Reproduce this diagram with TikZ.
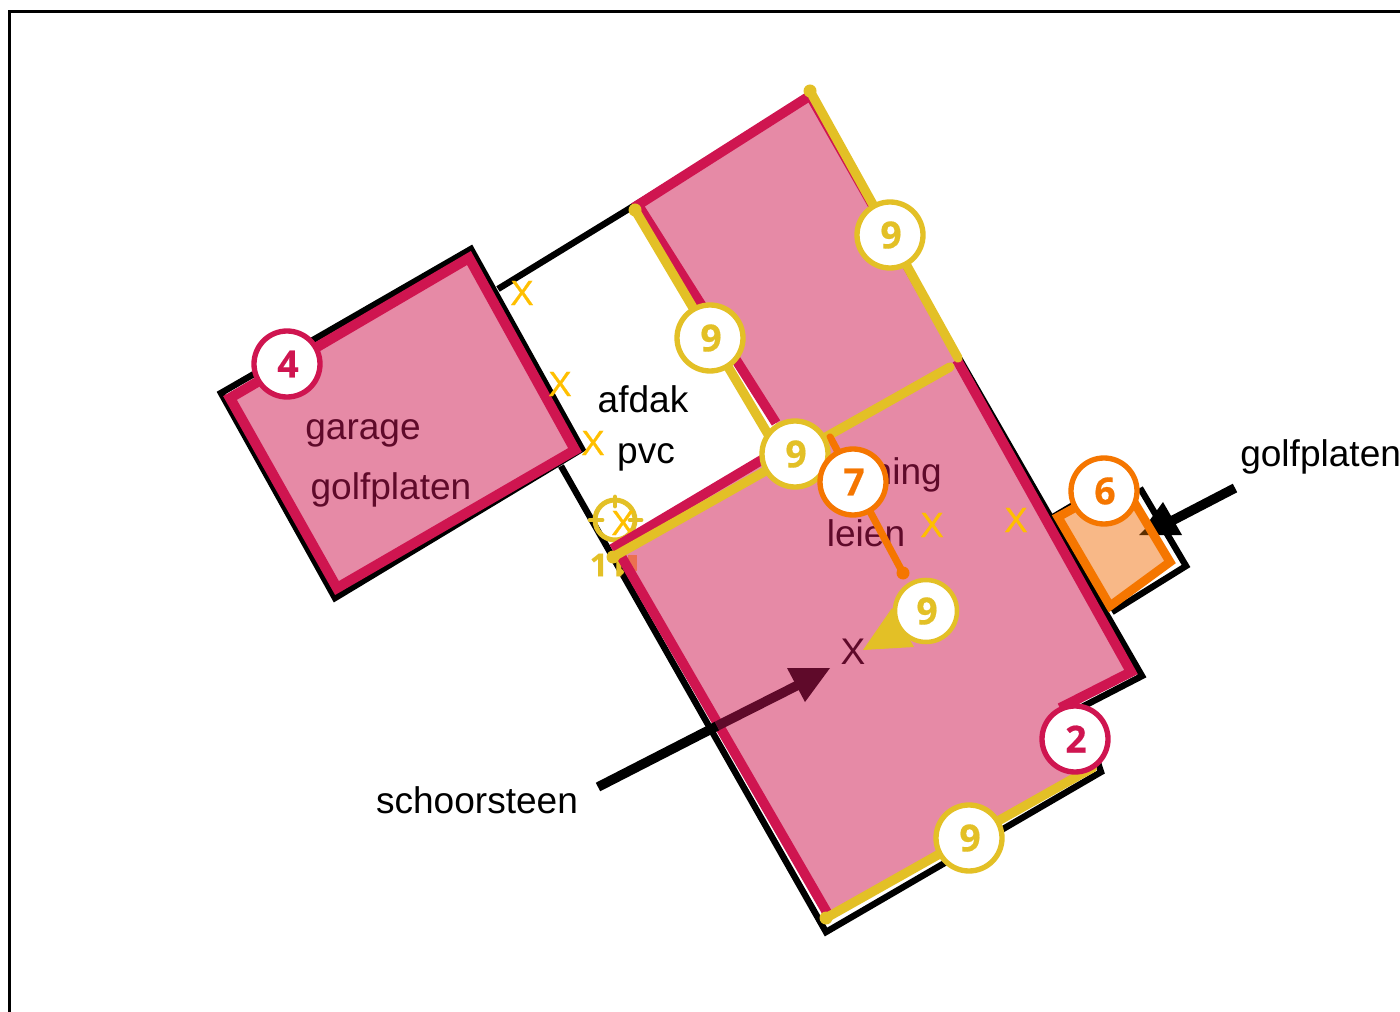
\documentclass[tikz,border=0pt]{standalone}
\usepackage{fontspec}
\setmainfont{Liberation Sans}
\newfontfamily\numfont[BoldFeatures={FakeBold=0.4}]{Open Sans}
\newfontfamily\xfont[FakeBold=0.5]{Liberation Sans}
\definecolor{rosefill}{HTML}{E68AA6}
\definecolor{crim}{HTML}{CF1550}
\definecolor{yel}{HTML}{E3C026}
\definecolor{xyel}{HTML}{FFBF00}
\definecolor{org}{HTML}{F57600}
\definecolor{orgfill}{HTML}{F8B887}
\definecolor{wine}{HTML}{5F0A2A}
\newcommand{\dg}[1]{\raisebox{-0.8pt}{\hspace{1.5pt}#1}}
\tikzset{
  outline/.style={draw=black,line width=4.8pt,line join=miter},
  crimline/.style={draw=crim,line width=7.4pt,line cap=butt},
  yelline/.style={draw=yel,line width=7pt,line cap=round},
  label/.style={font=\fontsize{27.8}{30}\selectfont,inner sep=0pt,text=black},
  roomlabel/.style={label,text=wine},
  xmark/.style={font=\xfont\fontsize{26.5}{28}\selectfont,inner sep=0pt,text=xyel},
  badge/.style={circle,draw=#1,fill=white,line width=4pt,minimum size=49.5pt,inner sep=0pt,text=#1,font=\numfont\bfseries\fontsize{28}{30}\selectfont},
  smallbadge/.style={badge=#1,line width=3.4pt,minimum size=46.5pt},
}
\begin{document}
\begin{tikzpicture}[x=0.75pt,y=-0.75pt]
\useasboundingbox (0,0) rectangle (1400,1012);
\clip (0,0) rectangle (1400,1012);
% frame
\draw[black,line width=2.4pt] (9.5,1030) -- (9.5,11.5) -- (1420,11.5);
% black building
\draw[outline] (498,289) -- (810,98);
\draw[outline] (959,358) -- (1142,676) -- (1080,708) -- (1101,772) -- (826,932) -- (561,466);
\draw[outline] (221,393) -- (471,249) -- (582,449) -- (335,598) -- cycle;
\draw[outline] (1112,612) -- (1186,566) -- (1140,488);
\draw[outline] (1053,517) -- (1075,504);
% crosshair
\draw[yel,line width=3.7pt] (615,520) circle (20);
\draw[yel,line width=3.7pt,line cap=round] (615,497) -- (615,506) (590,520) -- (602,520) (630,520) -- (641,520);
\node[xmark] (xc) at (623,523) {X};
% eleven
\node[font=\numfont\bfseries\fontsize{24}{26}\selectfont,inner sep=0pt,text=yel] (el) at (608,565) {11};
\fill[yel] (621,572) circle (3);
% arrow to annex (behind the annex)
\draw[black,line width=7.2pt] (1235,488) -- (1160,527);
\fill[black] (1163,502) -- (1182,535) -- (1139,535) -- cycle;
% pink areas
\fill[rosefill] (230,398) -- (469,258) -- (575,450) -- (337,588) -- cycle;
\fill[rosefill] (637,205) -- (808,99) -- (1131,672) -- (1060,707) -- (1092,768) -- (827,919) -- (620,555) -- (612,549) -- (775,455) -- (790,445) -- cycle;
\fill[orange!70!crim,opacity=.6] (628,555) rectangle (637,571);
% annex
\fill[orgfill] (1058,517) -- (1110,606) -- (1170,562) -- (1122,482) -- cycle;
\fill[black!40!orange!60!black] (1139,535) -- (1146,528) -- (1151,535) -- cycle;
\draw[org,line width=6.6pt,line join=miter] (1058,517) -- (1110,606) -- (1170,562) -- (1122,482) -- cycle;
% crimson edges
\draw[crim,line width=7.6pt,line join=miter] (230,398) -- (469,258) -- (575,450) -- (337,588) -- cycle;
\draw[crimline,line join=miter] (776,423) -- (638,205) -- (808,97);
\draw[crimline,line width=2pt] (808,99) -- (957,360);
\draw[crimline,line join=miter] (957,360) -- (1131,672) -- (1060,708);
\draw[crimline] (770,455) -- (612,549);
\draw[crimline] (621,556) -- (829,916);
\draw[crim,line width=1pt] (827,919) -- (1092,768);
% arrow to chimney
\draw[black,line width=7.2pt] (598,787) -- (717,726);
\draw[wine,line width=7.2pt] (717,726) -- (808,680);
\fill[wine] (787,668) -- (830,668) -- (805,702) -- cycle;
% lines
\draw[yelline] (810,91) -- (958,358);
\draw[yelline] (635,210) -- (775,446);
\draw[yelline] (613,557) -- (950,367);
\draw[yelline] (826,918) -- (1092,768);
\fill[yel] (810,91) circle (6.5) (635,210) circle (6.5) (613,557) circle (6.5) (826,918) circle (6.5) (1092,768) circle (5);
% crossed labels
\node[xmark] (x1) at (522,293) {X};
\node[xmark] (x2) at (560,384) {X};
\node[xmark] (x3) at (593,443) {X};
\node[xmark] (x4) at (932,525) {X};
\node[xmark] (x5) at (1016,520) {X};
\node[label,text=wine] (xd) at (853,652) {X};
% texts
\node[label] (afdak) at (643,399) {afdak};
\node[label] (pvc) at (646,457) {pvc};
\node[roomlabel] (garage) at (363,433) {garage};
\node[roomlabel] (golf) at (391,490) {golfplaten};
\node[roomlabel,anchor=east] (ning) at (942,475) {ning};
\node[roomlabel] (leien) at (866,533) {leien};
\node[label,anchor=west] (golfr) at (1240,457) {golfplaten};
\node[label] (schoor) at (477,800) {schoorsteen};
% orange line and yellow pointer
\draw[org,line width=5.4pt,line cap=round] (830,437) -- (903,573);
\fill[org] (903,573) circle (6.5);
\fill[yel] (863,650) -- (892,608) -- (914,647) -- cycle;
% badges
\node[badge=crim] (b4) at (287,364) {\dg{4}};
\node[badge=yel] (n1) at (890,235) {\dg{9}};
\node[badge=yel] (n2) at (710,338) {\dg{9}};
\node[badge=yel] (n3) at (795,454) {\dg{9}};
\node[badge=org] (b7) at (853,482) {\dg{7}};
\node[badge=org] (b6) at (1104,491) {\dg{6}};
\node[smallbadge=yel] (n4) at (926,611) {\dg{9}};
\node[badge=crim] (b2) at (1075,739) {\dg{2}};
\node[badge=yel] (n5) at (969,838) {\dg{9}};
\end{tikzpicture}
\end{document}
